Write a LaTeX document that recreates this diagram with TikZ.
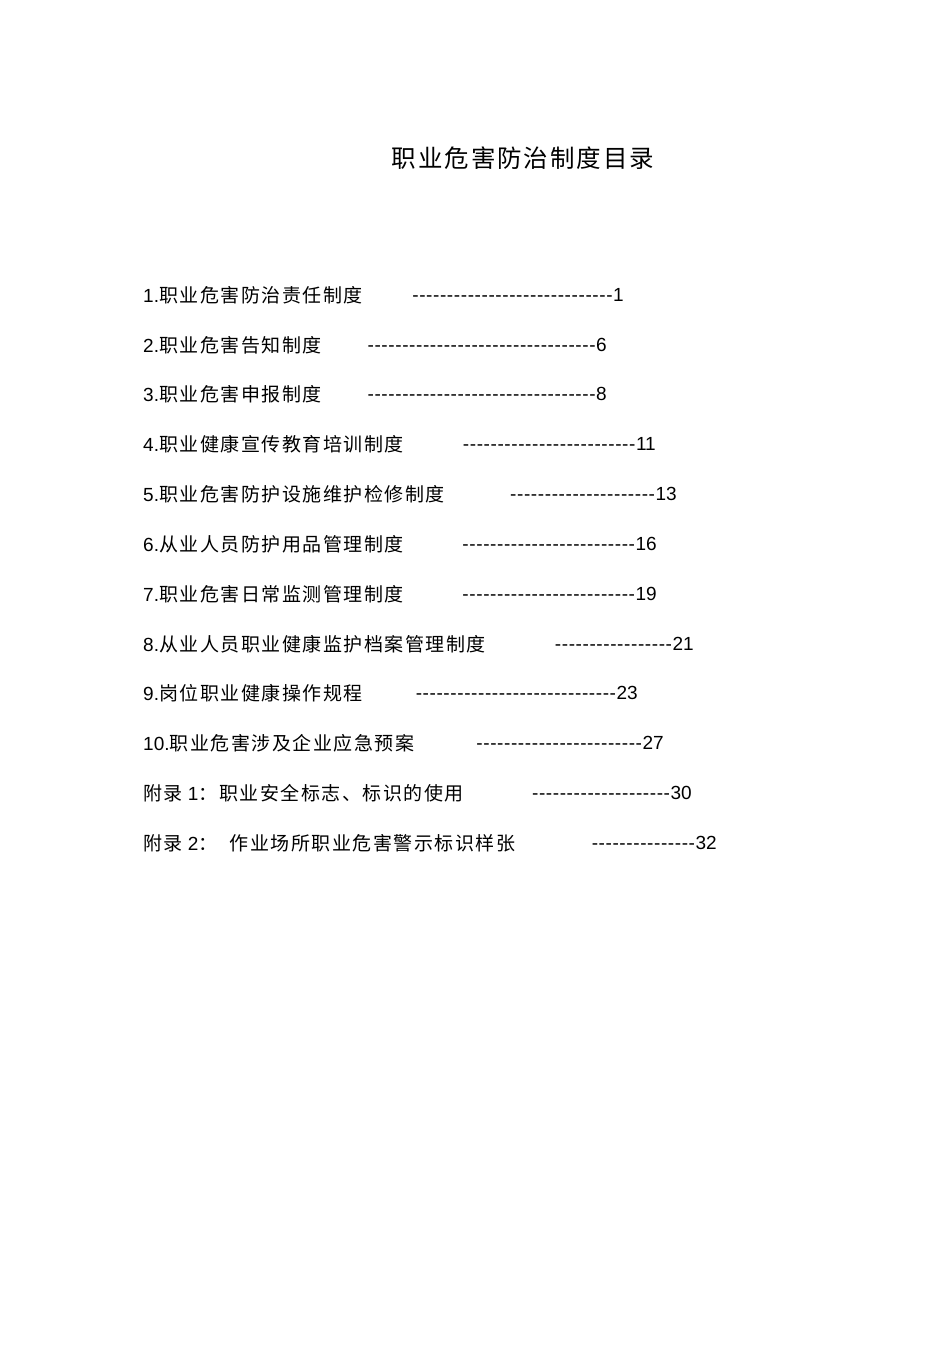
\documentclass[tikz,border=0pt]{standalone}
\usepackage{fontspec}
\setmainfont{Liberation Sans}
\newfontfamily\cjk[LetterSpace=8]{Noto Sans CJK SC}
\newcount\dcnt
\newcommand\dashrow[1]{\dcnt=0\relax\loop\ifnum\dcnt<#1 -\kern0.6pt\advance\dcnt by 1\repeat}
\begin{document}
\begin{tikzpicture}[x=1pt,y=-1pt,
  lt/.style={anchor=west,inner sep=0pt,font=\fontsize{19}{22}\selectfont},
  rt/.style={anchor=east,inner sep=0pt,font=\fontsize{19}{22}\selectfont}]
\useasboundingbox[fill=white] (0,0) rectangle (950,1345);
\node[inner sep=0pt,font=\cjk\fontsize{24.5}{28}\selectfont] (title) at (523,158) {职业危害防治制度目录};
\def\row#1#2#3#4#5#6{%
  \node[lt] (l#1) at (143,#2) {#3};
  \node[rt] (r#1) at (#4,#2) {\dashrow{#5}#6};}
\row{1}{295}{1.{\cjk 职业危害防治责任制度}}{624}{29}{1}
\row{2}{345}{2.{\cjk 职业危害告知制度}}{607}{33}{6}
\row{3}{394}{3.{\cjk 职业危害申报制度}}{607}{33}{8}
\row{4}{444}{4.{\cjk 职业健康宣传教育培训制度}}{656}{25}{11}
\row{5}{494}{5.{\cjk 职业危害防护设施维护检修制度}}{677}{21}{13}
\row{6}{544}{6.{\cjk 从业人员防护用品管理制度}}{657}{25}{16}
\row{7}{594}{7.{\cjk 职业危害日常监测管理制度}}{657}{25}{19}
\row{8}{644}{8.{\cjk 从业人员职业健康监护档案管理制度}}{694}{17}{21}
\row{9}{693}{9.{\cjk 岗位职业健康操作规程}}{638}{29}{23}
\row{10}{743}{10.{\cjk 职业危害涉及企业应急预案}}{664}{24}{27}
\row{11}{793}{{\cjk 附录} 1{\cjk ：职业安全标志、标识的使用}}{692}{20}{30}
\row{12}{843}{{\cjk 附录} 2{\cjk ：}\hspace{12pt}{\cjk 作业场所职业危害警示标识样张}}{717}{15}{32}
\end{tikzpicture}
\end{document}
